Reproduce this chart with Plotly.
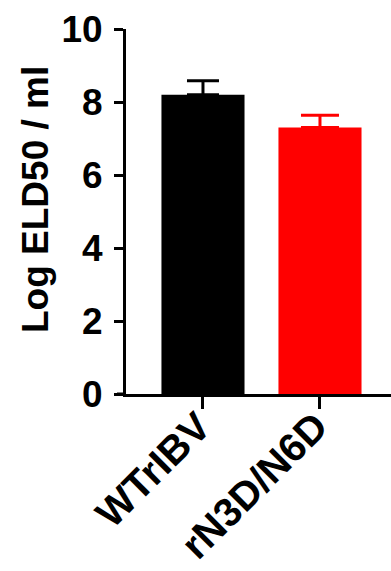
import plotly.graph_objects as go

categories = ["WTrIBV", "rN3D/N6D"]
means = [8.2, 7.3]
errors = [0.38, 0.34]
colors = ["#000000", "#ff0000"]
y_ticks = [0, 2, 4, 6, 8, 10]

W, H = 391, 571
L, R, T, B = 126, 0, 29, 177
pw = W - L - R
ph = H - T - B

FAM = "Liberation Sans"

fig = go.Figure()
for i, (c, m, e, col) in enumerate(zip(categories, means, errors, colors)):
    fig.add_trace(go.Bar(
        x=[c], y=[m], width=0.71,
        marker=dict(color=col, line=dict(width=0)),
        error_y=dict(type="data", symmetric=False, array=[e], arrayminus=[0],
                     color=col, thickness=3, width=16 if i == 0 else 19),
        showlegend=False,
    ))

fig.update_layout(
    width=W, height=H,
    margin=dict(l=L, r=R, t=T, b=B, pad=0),
    plot_bgcolor="white", paper_bgcolor="white",
    font=dict(family=FAM, size=36, color="black", weight="bold"),
    xaxis=dict(
        type="category", range=[-0.658, 1.607], automargin=False,
        showline=True, linecolor="black", linewidth=3,
        ticks="outside", ticklen=12, tickwidth=3, tickcolor="black",
        tickangle=-45, tickfont=dict(size=40, family=FAM, weight="bold", color="black"),
        ticklabelstandoff=-22, ticklabelshift=-4,
        showgrid=False, zeroline=False,
    ),
    yaxis=dict(
        range=[0, 10], tickvals=y_ticks, ticktext=[str(v) for v in y_ticks],
        automargin=False,
        showline=True, linecolor="black", linewidth=3,
        ticks="outside", ticklen=9, tickwidth=3, tickcolor="black",
        tickfont=dict(size=37, family=FAM, weight="bold", color="black"),
        ticklabelstandoff=4,
        showgrid=False, zeroline=False,
    ),
    annotations=[dict(
        text="Log ELD50 / ml", textangle=-90,
        xref="paper", yref="paper",
        x=(35 - L) / pw, y=(H - B - 200) / ph,
        xanchor="center", yanchor="middle", showarrow=False,
        font=dict(size=37, family=FAM, weight="bold", color="black"),
    )],
    shapes=[dict(type="line", xref="paper", yref="y",
                 x0=-9 / pw, x1=0, y0=0, y1=0,
                 line=dict(color="black", width=3))],
)

fig.write_html(
    "out.html",
    config={"displayModeBar": False, "staticPlot": True},
    post_script="document.body.style.margin='0';document.body.style.overflow='hidden';",
)
